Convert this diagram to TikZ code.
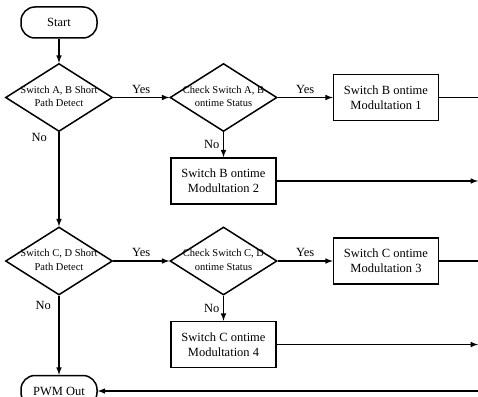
\documentclass[tikz,border=0pt]{standalone}
\usepackage{fontspec}
\setmainfont{Liberation Serif}
\usetikzlibrary{positioning, shapes.geometric, arrows}

\newcommand{\dlines}[2]{\makebox[0pt]{\begin{tabular}{@{}c@{}}#1\\#2\end{tabular}}}

\begin{document}
\begin{tikzpicture}[
    , line width = 1.5pt
    , font = \fontsize{12.5}{15}\selectfont
    , term/.style = {
      , draw
      , rounded corners = 14pt
      , minimum width = 76pt
      , minimum height = 31pt
      , inner sep = 0pt
    }
    , dec/.style = {
      , draw
      , diamond
      , minimum width = 107pt
      , minimum height = 68pt
      , inner sep = 0pt
      , font = \fontsize{10.5}{13.5}\selectfont
    }
    , box/.style = {
      , draw
      , align = center
      , minimum width = 105pt
      , minimum height = 46pt
      , inner sep = 2pt
    }
    , node distance = 24pt and 56pt
  ]
    \path [use as bounding box, clip] (-59pt,22.5pt) rectangle (419pt,-373.5pt);
    \coordinate (rim) at (419pt,0);

    \node (start) [term] {Start};
    \node (d1) [dec, below = of start] {\dlines{Switch A, B Short}{Path Detect}};
    \node (d2) [dec, right = of d1] {\dlines{Check Switch A, B}{ontime Status}};
    \node (b1) [box, right = 55pt of d2] {Switch B ontime\\Modultation 1};
    \node (b2) [box, below = 25pt of d2] {Switch B ontime\\Modultation 2};
    \node (d3) [dec, below = 94pt of d1] {\dlines{Switch C, D Short}{Path Detect}};
    \node (d4) [dec, right = of d3] {\dlines{Check Switch C, D}{ontime Status}};
    \node (b3) [box, right = 55pt of d4] {Switch C ontime\\Modultation 3};
    \node (b4) [box, below = 25pt of d4] {Switch C ontime\\Modultation 4};
    \node (pwm) [term, below = 79pt of d3] {PWM Out};

    \draw [-latex] (start) -- (d1);
    \draw [-latex] (d1) -- (d2) node [midway, above] {Yes};
    \draw [-latex] (d2) -- (b1) node [midway, above] {Yes};
    \draw [-latex] (d2) -- (b2) node [midway, left] {No};
    \draw (b1) -- (b1 -| rim);
    \draw [-latex] (b2) -- (b2 -| rim);
    \draw [-latex] (d1) -- (d3) node [pos = 0.06, left = 8pt] {No};
    \draw [-latex] (d3) -- (d4) node [midway, above] {Yes};
    \draw [-latex] (d4) -- (b3) node [midway, above] {Yes};
    \draw [-latex] (d4) -- (b4) node [midway, left] {No};
    \draw (b3) -- (b3 -| rim);
    \draw [-latex] (b4) -- (b4 -| rim);
    \draw [-latex] (d3) -- (pwm) node [pos = 0.12, left = 4pt] {No};
    \draw [-latex] (pwm -| rim) -- (pwm);
  \end{tikzpicture}
\end{document}
